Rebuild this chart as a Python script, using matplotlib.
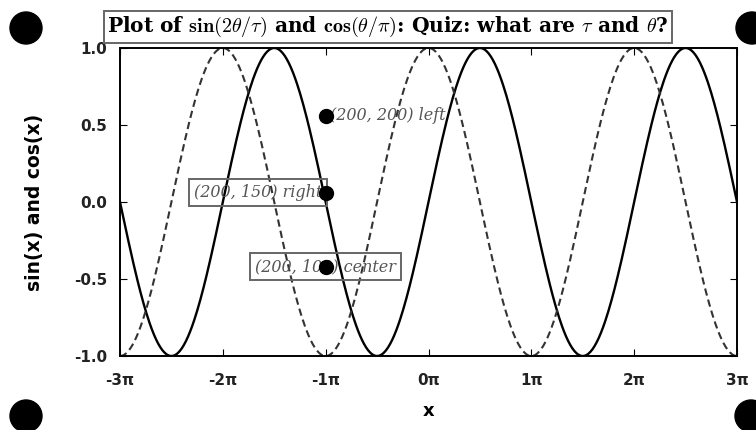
import numpy as np
import matplotlib
matplotlib.use('Agg')
from matplotlib import pyplot as plt
from matplotlib.patches import Circle

# curve samples and tick labels
x = np.linspace(-3 * np.pi, 3 * np.pi, 600)
sin_y = np.sin(x)
cos_y = np.cos(x)
xtick_vals = [-3, -2, -1, 0, 1, 2, 3]
xtick_labels = ['-3π', '-2π', '-1π', '0π', '1π', '2π', '3π']
ytick_vals = [-1.0, -0.5, 0.0, 0.5, 1.0]

# labelled points (data coords) and their texts
lab_x = [-np.pi, -np.pi, -np.pi]
lab_y = [0.56, 0.06, -0.42]
lab_text = ['(200, 200) left', '(200, 150) right', '(200, 100) center']
lab_align = ['left', 'right', 'center']
lab_box = [False, True, True]

plt.rcParams['mathtext.fontset'] = 'cm'

fig = plt.figure(figsize=(7.56, 4.30), dpi=100)
ax = fig.add_axes([120 / 756, 74 / 430, 617 / 756, 308 / 430])

ax.plot(x, sin_y, color='black', lw=1.7)
ax.plot(x, cos_y, color='#333333', lw=1.5, ls=(0, (3.5, 2)))

ax.set_xlim(-3 * np.pi, 3 * np.pi)
ax.set_ylim(-1, 1)
ax.set_xticks([v * np.pi for v in xtick_vals])
ax.set_xticklabels(xtick_labels)
ax.set_yticks(ytick_vals)
ax.set_yticklabels(['%.1f' % v for v in ytick_vals])
ax.tick_params(direction='in', top=True, right=True, length=5, width=0.8,
               labelsize=11)
ax.tick_params(axis='x', pad=12)
ax.tick_params(axis='y', pad=9)
for lbl in ax.get_xticklabels() + ax.get_yticklabels():
    lbl.set_fontweight('bold')
    lbl.set_color('#222222')
for s in ax.spines.values():
    s.set_linewidth(1.4)

ax.set_xlabel('x', fontsize=13, fontweight='bold', labelpad=10)
ax.set_ylabel('sin(x) and cos(x)', fontsize=13.5, fontweight='bold', labelpad=22)

for px, py, t, ha, box in zip(lab_x, lab_y, lab_text, lab_align, lab_box):
    ax.plot(px, py, 'o', color='black', ms=10, zorder=5)
    if ha == 'left':
        tx = px + 0.12
    elif ha == 'right':
        tx = px - 0.1
    else:
        tx = px
    bbox = dict(boxstyle='square,pad=0.3', fc='none', ec='#666666', lw=1.4) if box else None
    ax.text(tx, py, t, ha=ha, va='center', fontsize=11.5, family='DejaVu Serif',
            style='italic', color='#555555', bbox=bbox, zorder=4)

fig.text(388 / 756, 1 - 27 / 430,
         r'Plot of $\mathbf{sin}(2\theta/\tau)$ and $\mathbf{cos}(\theta/\pi)$: Quiz: what are $\tau$ and $\theta$?',
         ha='center', va='center', fontsize=14.5, fontweight='bold', family='DejaVu Serif',
         bbox=dict(boxstyle='square,pad=0.18', fc='white', ec='#666666', lw=1.4))

# corner dots, in pixels from top-left
for cx, cy in [(26, 28), (752, 28), (26, 416), (751, 416)]:
    fig.add_artist(Circle((cx / 100, (430 - cy) / 100), 0.16,
                          transform=fig.dpi_scale_trans, color='black'))

fig.savefig('out.png', dpi=100)
